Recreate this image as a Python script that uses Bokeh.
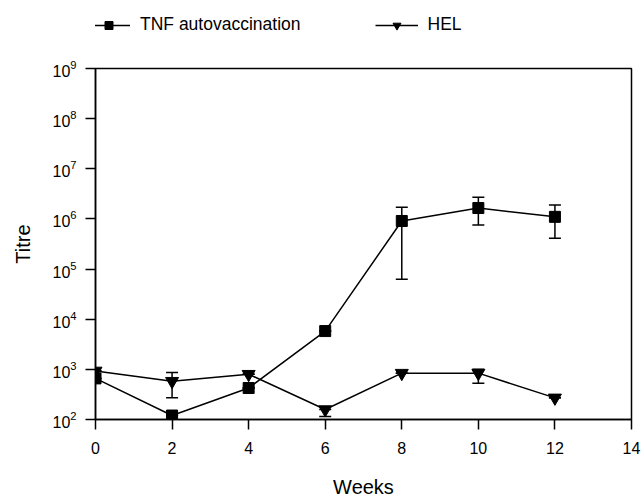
from bokeh.plotting import figure
from bokeh.layouts import column
from bokeh.models import (Range1d, FixedTicker, LogTickFormatter, Legend, LegendItem,
                          Whisker, TeeHead, ColumnDataSource)
from bokeh.embed import file_html
from bokeh.resources import INLINE

weeks = [0, 2, 4, 6, 8, 10, 12]
tnf = [660, 120, 425, 5800, 910000, 1650000, 1100000]
tnf_up = [660, 120, 425, 5800, 1700000, 2700000, 1900000]
tnf_lo = [660, 120, 425, 5800, 63000, 760000, 410000]
hel = [930, 580, 800, 158, 840, 840, 270]
hel_up = [930, 870, 800, 158, 840, 1000, 270]
hel_lo = [930, 270, 800, 115, 840, 530, 270]
x_ticks = [0, 2, 4, 6, 8, 10, 12, 14]
y_ticks = [1e2, 1e3, 1e4, 1e5, 1e6, 1e7, 1e8, 1e9]
series_names = ["TNF autovaccination", "HEL"]

FONT = "Liberation Sans"
FS = "16px"
FS_LEG = "17.5px"
FS_TITLE = "20px"

p = figure(width=642, height=442, output_backend="svg", toolbar_location=None,
           y_axis_type="log", x_range=Range1d(0, 14), y_range=Range1d(1e2, 1e9),
           min_border_left=95, min_border_right=11, min_border_top=10, min_border_bottom=75)
p.xgrid.visible = False
p.ygrid.visible = False
p.outline_line_color = "black"
p.outline_line_width = 1.5
p.outline_line_alpha = 1
p.background_fill_color = "white"
p.border_fill_color = "white"

for ax in (p.xaxis[0], p.yaxis[0]):
    ax.axis_line_width = 1.5
    ax.major_tick_line_width = 1.5
    ax.major_tick_out = 10
    ax.major_tick_in = 0
    ax.minor_tick_out = 0
    ax.minor_tick_in = 0
    ax.major_label_text_font = FONT
    ax.major_label_text_font_size = FS
    ax.major_label_text_color = "black"
    ax.axis_label_text_font = FONT
    ax.axis_label_text_font_size = FS_TITLE
    ax.axis_label_text_font_style = "normal"
    ax.axis_label_text_color = "black"

p.xaxis[0].ticker = FixedTicker(ticks=x_ticks)
p.yaxis[0].ticker = FixedTicker(ticks=y_ticks)
p.yaxis[0].formatter = LogTickFormatter(min_exponent=0)
p.xaxis[0].major_label_standoff = 12
p.yaxis[0].major_label_standoff = 9
p.xaxis[0].axis_label = "Weeks"
p.yaxis[0].axis_label = "Titre"
p.xaxis[0].axis_label_standoff = 19
p.yaxis[0].axis_label_standoff = 15

src_t = ColumnDataSource(dict(x=weeks, y=tnf, up=tnf_up, lo=tnf_lo))
src_h = ColumnDataSource(dict(x=weeks, y=hel, up=hel_up, lo=hel_lo))

p.line("x", "y", source=src_t, line_color="black", line_width=1.5)
p.line("x", "y", source=src_h, line_color="black", line_width=1.5)

for src in (src_t, src_h):
    w = Whisker(base="x", upper="up", lower="lo", source=src, line_color="black", line_width=1.5,
                upper_head=TeeHead(size=12, line_width=1.5, line_color="black"),
                lower_head=TeeHead(size=12, line_width=1.5, line_color="black"))
    p.add_layout(w)

p.scatter("x", "y", source=src_t, marker="square", size=11, fill_color="black", line_color="black")
p.scatter("x", "y", source=src_h, marker="inverted_triangle", size=13, fill_color="black", line_color="black")

# legend strip above the chart (its renderers share the data but lie outside its view)
lg = figure(width=642, height=58, output_backend="svg", toolbar_location=None,
            x_range=Range1d(1000, 1001), y_range=Range1d(0, 1),
            min_border=0, outline_line_color=None)
lg.axis.visible = False
lg.grid.visible = False
l1 = lg.line("x", "y", source=src_t, line_color="black", line_width=1.5)
m1 = lg.scatter("x", "y", source=src_t, marker="square", size=11,
                fill_color="black", line_color="black")
l2 = lg.line("x", "y", source=src_h, line_color="black", line_width=1.5)
m2 = lg.scatter("x", "y", source=src_h, marker="inverted_triangle", size=13,
                fill_color="black", line_color="black")
legend = Legend(items=[LegendItem(label=series_names[0], renderers=[l1, m1]),
                       LegendItem(label=series_names[1], renderers=[l2, m2])],
                orientation="horizontal", location=(-8, 23),
                glyph_width=43, glyph_height=20, label_height=20, label_standoff=10, spacing=74,
                padding=0, margin=0, border_line_color=None, background_fill_alpha=0,
                label_text_font=FONT, label_text_font_size=FS_LEG, label_text_color="black")
lg.add_layout(legend, "center")

layout = column(lg, p, spacing=0)
open("out.html", "w").write(file_html(layout, INLINE))
